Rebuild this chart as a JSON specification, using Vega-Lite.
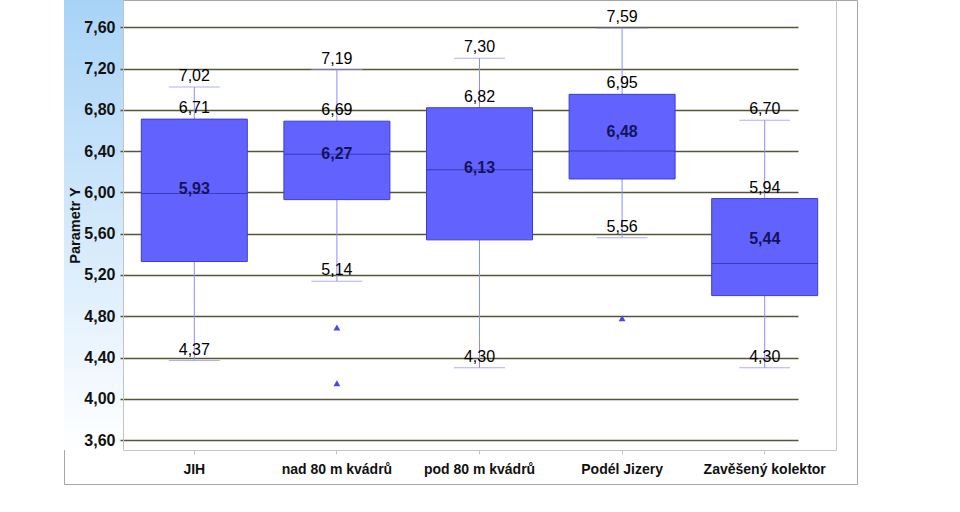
{
  "$schema": "https://vega.github.io/schema/vega-lite/v6.json",
  "width": 793,
  "height": 484,
  "autosize": {"type": "none"},
  "padding": {"left": 64, "top": 0, "right": 103, "bottom": 28},
  "background": "white",
  "datasets": {
    "boxes": [
      {"cat": "JIH", "lower": 4.37, "q1": 5.33, "median": 5.99, "q3": 6.71, "upper": 7.02, "mean": 5.93},
      {"cat": "nad 80 m kvádrů", "lower": 5.14, "q1": 5.93, "median": 6.37, "q3": 6.69, "upper": 7.19, "mean": 6.27},
      {"cat": "pod 80 m kvádrů", "lower": 4.30, "q1": 5.54, "median": 6.22, "q3": 6.82, "upper": 7.30, "mean": 6.13},
      {"cat": "Podél Jizery", "lower": 5.56, "q1": 6.13, "median": 6.40, "q3": 6.95, "upper": 7.59, "mean": 6.48},
      {"cat": "Zavěšený kolektor", "lower": 4.30, "q1": 5.00, "median": 5.31, "q3": 5.94, "upper": 6.70, "mean": 5.44}
    ],
    "outliers": [
      {"cat": "nad 80 m kvádrů", "value": 4.69},
      {"cat": "nad 80 m kvádrů", "value": 4.15},
      {"cat": "Podél Jizery", "value": 4.78}
    ]
  },
  "config": {
    "view": {"stroke": "#a6a6a6", "strokeWidth": 1, "fill": "white"},
    "locale": {"number": {"decimal": ",", "thousands": " ", "grouping": [3], "currency": ["", " Kč"]}}
  },
  "layer": [
    {
      "data": {"values": [{}]},
      "mark": {"type": "rect", "fill": {"gradient": "linear", "x1": 0, "y1": 0, "x2": 0, "y2": 1, "stops": [{"offset": 0, "color": "#a8d3f7"}, {"offset": 1, "color": "#ffffff"}]}, "stroke": null},
      "encoding": {
        "x": {"datum": 0, "type": "quantitative", "scale": {"domain": [0, 1], "range": [0, 59]}, "axis": null},
        "x2": {"datum": 1},
        "y": {"datum": 7.864, "type": "quantitative", "scale": {"domain": [3.504, 7.864], "range": [450, 0], "nice": false, "zero": false}, "axis": null},
        "y2": {"datum": 3.504}
      }
    },
    {
      "data": {"name": "boxes"},
      "layer": [
        {
          "mark": {"type": "rule", "color": "#8c8cff", "strokeWidth": 1},
          "encoding": {
            "x": {
              "field": "cat", "type": "nominal", "sort": null,
              "scale": {"domain": ["JIH", "nad 80 m kvádrů", "pod 80 m kvádrů", "Podél Jizery", "Zavěšený kolektor"], "range": [59, 772], "paddingInner": 0, "paddingOuter": 0},
              "axis": {"orient": "bottom", "offset": -34, "title": null, "labelAngle": 0, "labelFont": "Liberation Sans, Arial, sans-serif", "labelFontSize": 14, "labelFontWeight": "bold", "labelColor": "#111111", "labelPadding": 8, "tickSize": 4, "tickColor": "#c4c4c4", "domainColor": "#c4c4c4", "grid": false}
            },
            "y": {
              "field": "lower", "type": "quantitative",
              "scale": {"domain": [3.504, 7.864], "range": [450, 0], "nice": false, "zero": false},
              "axis": {"title": "Parametr Y", "orient": "left", "offset": -59, "zindex": 1, "grid": false, "values": [3.6, 4.0, 4.4, 4.8, 5.2, 5.6, 6.0, 6.4, 6.8, 7.2, 7.6], "labelExpr": "replace(format(datum.value, '.2f'), '.', ',')", "labelFont": "Liberation Sans, Arial, sans-serif", "labelFontSize": 16, "labelFontWeight": "bold", "labelColor": "#111111", "labelPadding": 5, "tickSize": 3, "tickColor": "#555538", "tickWidth": 1.5, "domainColor": "#c4c4c4", "domainWidth": 1, "titleFont": "Liberation Sans, Arial, sans-serif", "titleFontSize": 14.5, "titleFontWeight": "bold", "titleColor": "#111111", "titlePadding": 1}
            },
            "y2": {"field": "upper"}
          }
        },
        {
          "mark": {"type": "tick", "color": "#8c8cff", "size": 51, "thickness": 1},
          "encoding": {
            "x": {"field": "cat", "type": "nominal", "sort": null},
            "y": {"field": "upper", "type": "quantitative", "axis": {"orient": "right", "offset": -21, "title": null, "labels": false, "ticks": false, "grid": true, "gridColor": "#555538", "gridWidth": 1.5, "values": [3.6, 4.0, 4.4, 4.8, 5.2, 5.6, 6.0, 6.4, 6.8, 7.2, 7.6], "domainColor": "#c4c4c4", "zindex": 0}}
          }
        },
        {
          "mark": {"type": "tick", "color": "#8c8cff", "size": 51, "thickness": 1},
          "encoding": {
            "x": {"field": "cat", "type": "nominal", "sort": null},
            "y": {"field": "lower", "type": "quantitative", "axis": null}
          }
        },
        {
          "mark": {"type": "bar", "size": 106, "fill": "#6262ff", "stroke": "#3c3cd0", "strokeWidth": 1},
          "encoding": {
            "x": {"field": "cat", "type": "nominal", "sort": null},
            "y": {"field": "q1", "type": "quantitative", "axis": null},
            "y2": {"field": "q3"}
          }
        },
        {
          "mark": {"type": "tick", "color": "#2a2aa8", "size": 106, "thickness": 1},
          "encoding": {
            "x": {"field": "cat", "type": "nominal", "sort": null},
            "y": {"field": "median", "type": "quantitative", "axis": null}
          }
        },
        {
          "transform": [{"fold": ["upper", "q3", "lower"], "as": ["stat", "val"]}],
          "mark": {"type": "text", "baseline": "alphabetic", "dy": -6, "fontSize": 16, "font": "Liberation Sans, Arial, sans-serif", "color": "#000000"},
          "encoding": {
            "x": {"field": "cat", "type": "nominal", "sort": null},
            "y": {"field": "val", "type": "quantitative", "axis": null},
            "text": {"field": "val", "type": "quantitative", "format": ".2f"}
          }
        },
        {
          "mark": {"type": "text", "baseline": "alphabetic", "dy": -6, "fontSize": 16, "fontWeight": "bold", "font": "Liberation Sans, Arial, sans-serif", "color": "#14145a"},
          "encoding": {
            "x": {"field": "cat", "type": "nominal", "sort": null},
            "y": {"field": "mean", "type": "quantitative", "axis": null},
            "text": {"field": "mean", "type": "quantitative", "format": ".2f"}
          }
        },
        {
          "data": {"name": "outliers"},
          "mark": {"type": "point", "shape": "triangle-up", "filled": true, "size": 48, "color": "#4a4ae0", "opacity": 1},
          "encoding": {
            "x": {"field": "cat", "type": "nominal", "sort": null},
            "y": {"field": "value", "type": "quantitative", "axis": null}
          }
        }
      ],
      "resolve": {"axis": {"y": "independent"}}
    }
  ],
  "resolve": {"scale": {"x": "independent"}, "axis": {"x": "independent", "y": "independent"}}
}
